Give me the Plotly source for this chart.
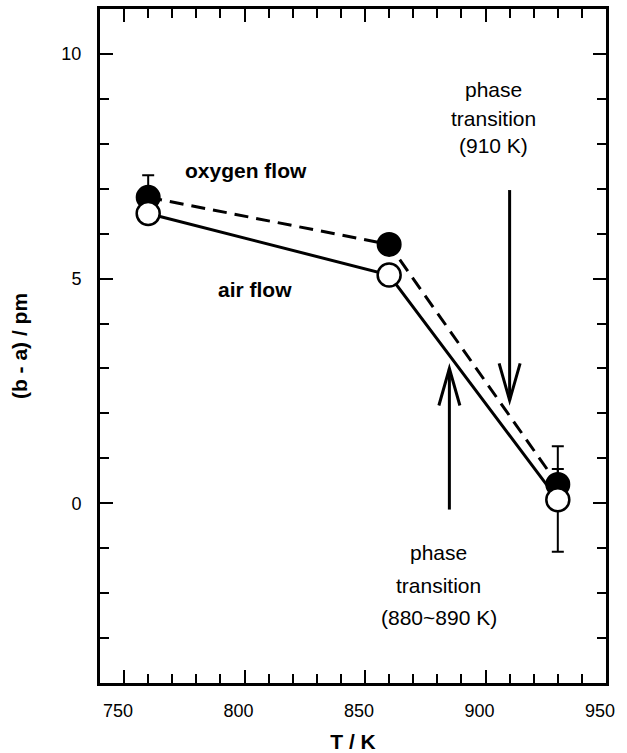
import plotly.graph_objects as go

# Lattice distortion (b - a) vs temperature under two atmospheres
temperature = [760, 860, 930]
oxygen_flow = [6.81, 5.76, 0.42]
oxygen_err = [0.49, 0.0, 0.34]
air_flow = [6.45, 5.08, 0.08]
air_err_plus = [0.0, 0.0, 1.19]
air_err_minus = [0.0, 0.0, 1.16]

x_ticks = [750, 800, 850, 900, 950]
y_ticks = [0, 5, 10]

# Phase-transition arrows: (temperature, tail y, tip y)
arrow_down = (910, 6.97, 2.29)
arrow_up = (885, -0.14, 3.0)

upper_note = ["phase", "transition", "(910 K)"]
lower_note = ["phase", "transition", "(880~890 K)"]

X_RANGE = [740, 950]
Y_RANGE = [-4, 11]
W, H = 627, 753
M = dict(l=100, r=21, t=9, b=70)

px_per_x = (W - M["l"] - M["r"]) / (X_RANGE[1] - X_RANGE[0])
px_per_y = (H - M["t"] - M["b"]) / (Y_RANGE[1] - Y_RANGE[0])

FONT = "Liberation Sans, Arial, Helvetica, sans-serif"

fig = go.Figure()

fig.add_trace(go.Scatter(
    x=temperature, y=oxygen_flow, mode="lines+markers", name="oxygen flow",
    line=dict(color="black", width=3, dash="14px,8px"),
    marker=dict(size=23, color="black", line=dict(color="black", width=2)),
    error_y=dict(type="data", array=oxygen_err, symmetric=True,
                 color="black", thickness=2, width=6),
))
fig.add_trace(go.Scatter(
    x=temperature, y=air_flow, mode="lines+markers", name="air flow",
    line=dict(color="black", width=3),
    marker=dict(size=23, color="white", line=dict(color="black", width=2.5)),
    error_y=dict(type="data", array=air_err_plus, arrayminus=air_err_minus,
                 symmetric=False, color="black", thickness=2, width=6),
))

shapes = []


def add_arrow(t, y_tail, y_tip):
    shapes.append(dict(type="line", xref="x", yref="y", x0=t, x1=t,
                       y0=y_tail, y1=y_tip,
                       line=dict(color="black", width=3)))
    direction = 1 if y_tip > y_tail else -1
    dx = 10.5 / px_per_x
    dy = 37 / px_per_y * direction
    path = (f"M {t - dx},{y_tip - dy} L {t},{y_tip} L {t + dx},{y_tip - dy}")
    shapes.append(dict(type="path", xref="x", yref="y", path=path,
                       line=dict(color="black", width=3)))


add_arrow(*arrow_down)
add_arrow(*arrow_up)

annotations = []
for text, yv in zip(upper_note, [9.2, 8.56, 7.97]):
    annotations.append(dict(x=903.5, y=yv, text=text, showarrow=False,
                            font=dict(family=FONT, size=21, color="black")))
for text, yv in zip(lower_note, [-1.1, -1.82, -2.55]):
    annotations.append(dict(x=880.5, y=yv, text=text, showarrow=False,
                            font=dict(family=FONT, size=21, color="black")))
annotations.append(dict(x=800.5, y=7.4, text="<b>oxygen flow</b>", showarrow=False,
                        font=dict(family=FONT, size=21, color="black")))
annotations.append(dict(x=804.5, y=4.76, text="<b>air flow</b>", showarrow=False,
                        font=dict(family=FONT, size=21, color="black")))

axis_common = dict(
    showline=True, linecolor="black", linewidth=3, mirror="allticks",
    ticks="inside", tickcolor="black", tickwidth=2, ticklen=13,
    showgrid=False, zeroline=False, automargin=False,
    tickfont=dict(family=FONT, size=18, color="black"),
)

fig.update_layout(
    width=W, height=H, margin=M,
    paper_bgcolor="white", plot_bgcolor="white",
    showlegend=False,
    shapes=shapes, annotations=annotations,
    xaxis=dict(range=X_RANGE, tickvals=x_ticks, ticklabelstandoff=9,
               ticklabelshift=-6,
               minor=dict(dtick=10, tick0=0, ticks="inside", ticklen=9,
                          tickwidth=2, tickcolor="black"),
               title=dict(text="<b>T / K</b>", standoff=19,
                          font=dict(family=FONT, size=21, color="black")),
               **axis_common),
    yaxis=dict(range=Y_RANGE, tickvals=y_ticks, ticklabelstandoff=12,
               minor=dict(dtick=1, tick0=0, ticks="inside", ticklen=9,
                          tickwidth=2, tickcolor="black"),
               title=dict(text="<b>(b - a) / pm</b>", standoff=29,
                          font=dict(family=FONT, size=21, color="black")),
               **axis_common),
)

fig.write_html("out.html")
